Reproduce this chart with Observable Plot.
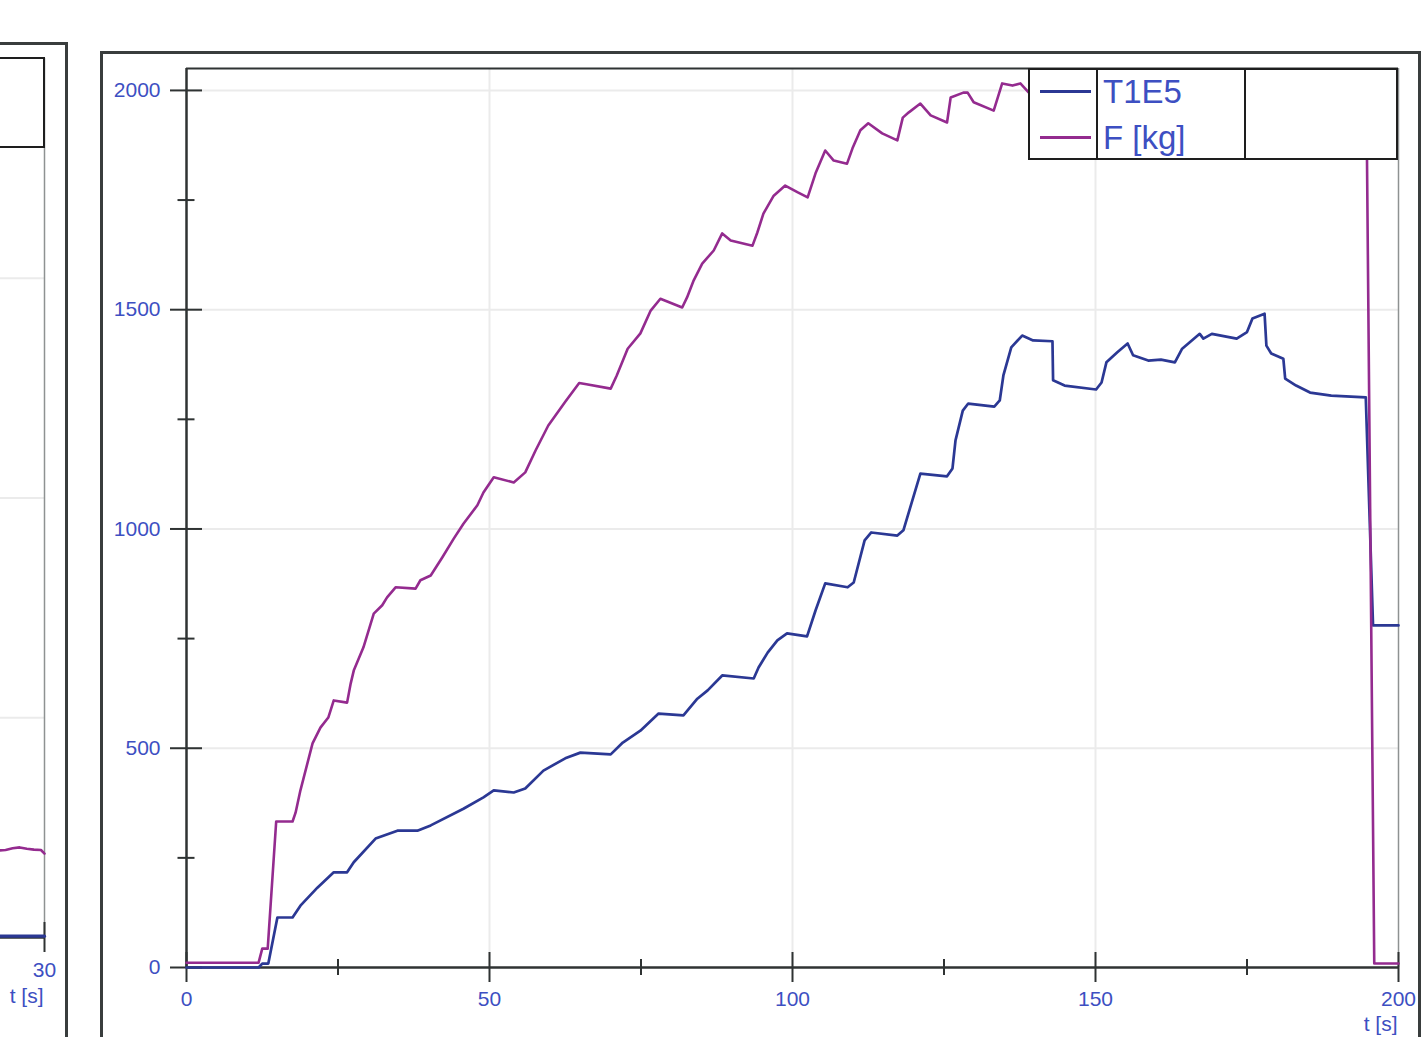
<!DOCTYPE html>
<html>
<head>
<meta charset="utf-8">
<script src="https://cdn.jsdelivr.net/npm/d3@7"></script>
<script src="https://cdn.jsdelivr.net/npm/@observablehq/plot@0.6"></script>
<style>
html, body { margin: 0; padding: 0; background: #fff; }
#stage { position: relative; width: 1427px; height: 1037px; overflow: hidden; background: #fff;
  font-family: "Liberation Sans", Arial, Helvetica, sans-serif; }
#stage > * { position: absolute; }
.frame { box-sizing: border-box; border: 3px solid #393d3d; }
.legend { box-sizing: border-box; border: 2px solid #1e1e1e; background: #fff; }
.legend > * { position: absolute; }
</style>
</head>
<body>
<div id="stage"></div>
<script>
// ---------- data ----------
const xMajorTicks = [0, 50, 100, 150, 200];
const xMinorTicks = [25, 75, 125, 175];
const yMajorTicks = [0, 500, 1000, 1500, 2000];
const yMinorTicks = [250, 750, 1250, 1750];
const xAxisLabel = "t [s]";
const seriesNames = ["T1E5", "F [kg]"];

// T1E5 (blue)
const t1e5Time = [0, 11.9, 12.5, 13.5, 15.0, 17.5, 18.8, 21.6, 24.3, 26.5, 27.6, 31.2, 34.8, 38.1, 40.3, 45.7, 49.0, 50.7, 54.0, 55.9, 58.9, 62.5, 65.0, 70.0, 72.0, 74.9, 77.9, 82.0, 84.3, 86.0, 88.4, 93.6, 94.4, 95.9, 97.5, 99.1, 102.4, 103.8, 105.4, 109.1, 110.1, 111.9, 113.0, 117.3, 118.3, 121.1, 125.5, 126.4, 126.9, 128.1, 129.0, 133.3, 134.2, 134.8, 136.1, 137.9, 139.7, 142.9, 143.0, 144.9, 150.1, 151.0, 151.8, 153.6, 155.3, 156.2, 158.7, 160.8, 163.1, 164.3, 167.2, 167.8, 169.2, 173.3, 175.0, 175.9, 177.9, 178.2, 179.0, 181.0, 181.3, 183.1, 185.4, 188.9, 194.6, 195.8, 200];
const t1e5Value = [0, 0, 9, 9, 114, 114, 141, 182, 217, 217, 240, 294, 312, 312, 324, 362, 388, 404, 399, 408, 449, 477, 490, 486, 513, 540, 579, 575, 613, 632, 666, 659, 684, 718, 746, 762, 755, 814, 876, 867, 878, 974, 992, 985, 997, 1126, 1120, 1138, 1202, 1270, 1286, 1279, 1293, 1350, 1414, 1441, 1430, 1428, 1339, 1327, 1318, 1334, 1380, 1403, 1423, 1396, 1384, 1386, 1380, 1411, 1445, 1434, 1445, 1434, 1449, 1480, 1491, 1418, 1400, 1388, 1343, 1327, 1311, 1304, 1300, 780, 780];

// F [kg] (magenta)
const forceTime = [0, 11.9, 12.5, 13.4, 14.8, 17.5, 18.0, 18.8, 20.8, 22.1, 23.4, 24.3, 26.5, 27.1, 27.6, 29.2, 30.9, 32.3, 33.1, 34.5, 37.8, 38.6, 40.3, 42.2, 44.1, 45.7, 48.0, 49.0, 50.7, 54.0, 55.9, 57.6, 59.7, 62.5, 64.8, 66.0, 70.0, 71.0, 72.8, 74.9, 76.6, 78.2, 81.8, 82.6, 83.7, 85.1, 87.0, 88.4, 89.8, 93.4, 94.2, 95.2, 96.9, 98.8, 100.8, 102.5, 103.8, 105.4, 106.8, 109.0, 109.9, 111.2, 112.5, 114.8, 117.3, 118.2, 119.2, 121.1, 122.8, 125.5, 126.1, 128.2, 128.9, 129.9, 133.2, 134.6, 136.3, 137.6, 139.0, 150, 165, 180, 194.7, 196.0, 200];
const forceValue = [11, 11, 43, 43, 333, 333, 353, 404, 511, 547, 570, 609, 604, 648, 677, 730, 807, 826, 844, 867, 864, 883, 894, 935, 978, 1012, 1054, 1083, 1118, 1106, 1129, 1179, 1236, 1290, 1333, 1330, 1320, 1350, 1411, 1446, 1498, 1525, 1505, 1528, 1567, 1605, 1635, 1674, 1658, 1646, 1676, 1719, 1760, 1783, 1768, 1756, 1811, 1863, 1840, 1833, 1868, 1909, 1925, 1902, 1886, 1938, 1950, 1970, 1943, 1927, 1984, 1995, 1995, 1973, 1954, 2016, 2011, 2016, 1995, 2005, 2010, 2000, 2000, 9, 9];

// neighbouring (cut-off) panel on the left
const leftXTicks = [30];
const leftYGrid = [500, 1000, 1500];
const leftTime = [28.7, 28.9, 29.1, 29.3, 29.5, 29.7, 29.9, 30];
const leftForce = [198, 199, 203, 205, 202, 200, 199, 191];
const leftT1e5 = [3, 3, 3, 3, 3, 3, 3, 3];

// ---------- styles ----------
const seriesColors = ["#2b3894", "#942b8f"];
const labelColor = "#3d4fc2";
const axisColor = "#2f3333";
const gridColor = "#ebebeb";
const fontFamily = '"Liberation Sans", Arial, Helvetica, sans-serif';

const toRows = (ts, vs, s) => ts.map((t, i) => ({t, v: vs[i], s}));
const blueRows = toRows(t1e5Time, t1e5Value, seriesNames[0]);
const magRows = toRows(forceTime, forceValue, seriesNames[1]);

const stage = document.getElementById("stage");

// ---------- main chart ----------
const main = Plot.plot({
  width: 1427, height: 1037,
  marginLeft: 186, marginRight: 29, marginTop: 68, marginBottom: 70,
  style: {fontFamily, fontSize: "21px", color: labelColor, background: "transparent", overflow: "visible"},
  x: {domain: [0, 200], axis: null},
  y: {domain: [0, 2050], axis: null},
  marks: [
    Plot.gridX({ticks: xMajorTicks.filter(d => d > 0 && d < 200), stroke: gridColor, strokeOpacity: 1, strokeWidth: 2}),
    Plot.gridY({ticks: yMajorTicks.filter(d => d > 0), stroke: gridColor, strokeOpacity: 1, strokeWidth: 2}),
    Plot.ruleX([200], {stroke: "#8e9292", strokeWidth: 1.5}),
    Plot.ruleY([2050], {stroke: axisColor, strokeWidth: 2}),
    Plot.ruleX([0], {stroke: axisColor, strokeWidth: 2.5}),
    Plot.ruleY([0], {stroke: axisColor, strokeWidth: 2.5}),
    Plot.axisX({ticks: xMajorTicks, tickSize: 30, dy: -15, stroke: axisColor, strokeWidth: 2, tickFormat: () => "", label: null}),
    Plot.axisX({ticks: xMinorTicks, tickSize: 16, dy: -8, stroke: axisColor, strokeWidth: 2, tickFormat: () => "", label: null}),
    Plot.axisY({ticks: yMajorTicks, tickSize: 32, dx: 16, stroke: axisColor, strokeWidth: 2, tickFormat: () => "", label: null}),
    Plot.axisY({ticks: yMinorTicks, tickSize: 17, dx: 8.5, stroke: axisColor, strokeWidth: 2, tickFormat: () => "", label: null}),
    Plot.axisX({ticks: xMajorTicks, tickSize: 0, tickPadding: 24, fill: labelColor, fontSize: 21, label: null, tickFormat: d => String(d)}),
    Plot.axisY({ticks: yMajorTicks, tickSize: 0, tickPadding: 26, fill: labelColor, fontSize: 21, label: null, tickFormat: d => String(d)}),
    Plot.text([xAxisLabel], {text: d => d, frameAnchor: "bottom-right", textAnchor: "end", lineAnchor: "top", dy: 49, dx: -1, fill: labelColor, fontSize: 21}),
    Plot.lineY(blueRows, {x: "t", y: "v", stroke: seriesColors[0], strokeWidth: 2.7, strokeLinejoin: "round"}),
    Plot.lineY(magRows, {x: "t", y: "v", stroke: seriesColors[1], strokeWidth: 2.6, strokeLinejoin: "round"})
  ]
});
main.style.left = "0px";
main.style.top = "0px";
stage.appendChild(main);

// ---------- left (cut-off) panel ----------
const leftPlot = Plot.plot({
  width: 1150, height: 1037,
  marginLeft: 60, marginRight: 29, marginTop: 58, marginBottom: 100,
  style: {fontFamily, fontSize: "21px", color: labelColor, background: "transparent", overflow: "visible"},
  x: {domain: [0, 30], axis: null},
  y: {domain: [0, 2000], axis: null},
  marks: [
    Plot.gridY({ticks: leftYGrid, stroke: gridColor, strokeOpacity: 1, strokeWidth: 2}),
    Plot.ruleX([30], {stroke: "#8e9292", strokeWidth: 1.5}),
    Plot.ruleY([0], {stroke: axisColor, strokeWidth: 2.5}),
    Plot.axisX({ticks: leftXTicks, tickSize: 30, dy: -15, stroke: axisColor, strokeWidth: 2, tickFormat: () => "", label: null}),
    Plot.axisX({ticks: leftXTicks, tickSize: 0, tickPadding: 25, fill: labelColor, fontSize: 21, label: null, tickFormat: d => String(d)}),
    Plot.text([xAxisLabel], {text: d => d, frameAnchor: "bottom-right", textAnchor: "end", lineAnchor: "top", dy: 51, dx: -1, fill: labelColor, fontSize: 21}),
    Plot.lineY(toRows(leftTime, leftT1e5, seriesNames[0]), {x: "t", y: "v", stroke: seriesColors[0], strokeWidth: 3.2}),
    Plot.lineY(toRows(leftTime, leftForce, seriesNames[1]), {x: "t", y: "v", stroke: seriesColors[1], strokeWidth: 2.6})
  ]
});
leftPlot.style.left = "-1077px";
leftPlot.style.top = "0px";
stage.appendChild(leftPlot);

// ---------- panel frames ----------
function box(cls, left, top, width, height) {
  const d = document.createElement("div");
  d.className = cls;
  Object.assign(d.style, {left: left + "px", top: top + "px", width: width + "px", height: height + "px"});
  stage.appendChild(d);
  return d;
}
box("frame", 100, 51, 1321, 1100);
box("frame", -300, 42, 368, 1100);

// left panel legend (contents off-screen)
box("legend", -300, 57, 345, 91);

// main legend
const leg = box("legend", 1028, 68, 370, 92);
[66, 214].forEach(x => {
  const d = document.createElement("div");
  Object.assign(d.style, {left: x + "px", top: "0px", width: "2px", height: "88px", background: "#1e1e1e"});
  leg.appendChild(d);
});
seriesNames.forEach((name, i) => {
  const sw = document.createElement("div");
  Object.assign(sw.style, {left: "10px", top: (20 + i * 46) + "px", width: "51px", height: "2.6px", background: seriesColors[i]});
  leg.appendChild(sw);
  const tx = document.createElement("div");
  tx.textContent = name;
  Object.assign(tx.style, {left: "73px", top: (5 + i * 46) + "px", fontSize: "33px", lineHeight: "33px", color: labelColor, whiteSpace: "nowrap", fontFamily});
  leg.appendChild(tx);
});
</script>
</body>
</html>
